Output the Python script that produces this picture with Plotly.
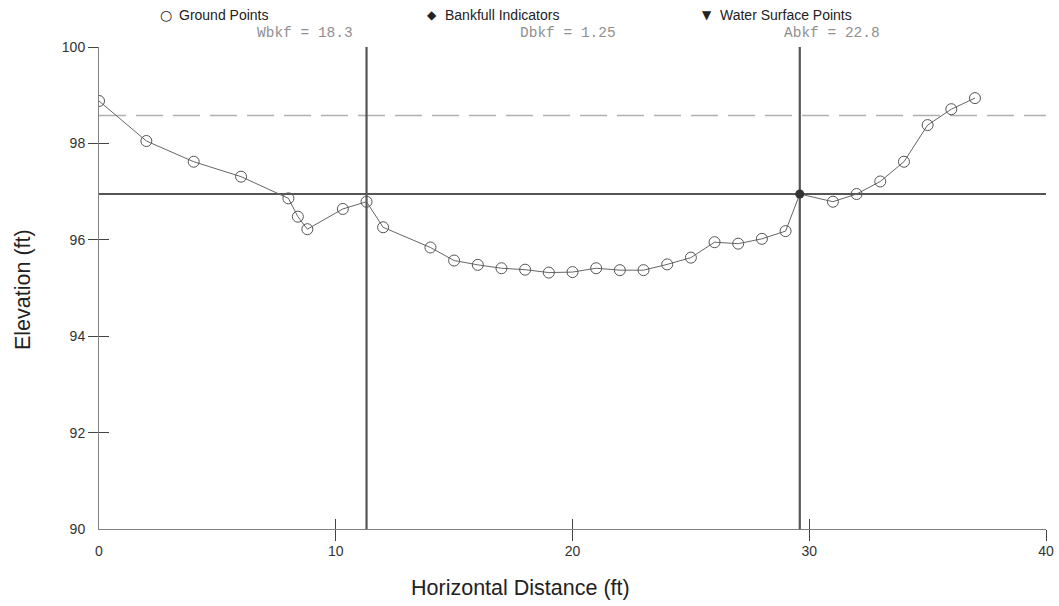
import plotly.graph_objects as go

# Surveyed cross-section: station (ft) and elevation (ft)
ground_x = [0, 2, 4, 6, 8, 8.4, 8.8, 10.3, 11.3, 12, 14, 15, 16, 17, 18, 19, 20, 21, 22,
            23, 24, 25, 26, 27, 28, 29, 31, 32, 33, 34, 35, 36, 37]
ground_y = [98.88, 98.05, 97.62, 97.31, 96.86, 96.48, 96.22, 96.64, 96.79, 96.26, 95.84,
            95.57, 95.48, 95.41, 95.38, 95.32, 95.33, 95.41, 95.37, 95.37, 95.49, 95.63,
            95.95, 95.92, 96.02, 96.18, 96.79, 96.95, 97.21, 97.62, 98.38, 98.71, 98.94]

# Bankfull indicator
bankfull_x = [29.6]
bankfull_y = [96.95]

# Bankfull geometry
left_bank = 11.3
right_bank = 29.6
bankfull_elev = 96.95
floodprone_elev = 98.58
stats = {"Wbkf": "18.3", "Dbkf": "1.25", "Abkf": "22.8"}

x_ticks = [0, 10, 20, 30, 40]
y_ticks = [90, 92, 94, 96, 98, 100]
x_range = [0, 40]
y_range = [90, 100]

profile = sorted(zip(ground_x + bankfull_x, ground_y + bankfull_y))
line_x = [p[0] for p in profile]
line_y = [p[1] for p in profile]

fig = go.Figure()

# Reference lines: flood-prone (dashed), bankfull elevation, bank stations
fig.add_trace(go.Scatter(x=x_range, y=[floodprone_elev] * 2, mode="lines",
                         line=dict(color="#b0b0b0", width=1.6, dash="27px,10px"),
                         hoverinfo="skip"))
fig.add_trace(go.Scatter(x=x_range, y=[bankfull_elev] * 2, mode="lines",
                         line=dict(color="#555555", width=2), hoverinfo="skip"))
for bx in (left_bank, right_bank):
    fig.add_trace(go.Scatter(x=[bx, bx], y=y_range, mode="lines",
                             line=dict(color="#555555", width=2.2), hoverinfo="skip"))

# Ground profile
fig.add_trace(go.Scatter(x=line_x, y=line_y, mode="lines",
                         line=dict(color="#666666", width=1), hoverinfo="skip"))
fig.add_trace(go.Scatter(x=ground_x, y=ground_y, mode="markers", name="Ground Points",
                         marker=dict(symbol="circle-open", size=11, color="#555555",
                                     line=dict(color="#555555", width=1))))
fig.add_trace(go.Scatter(x=bankfull_x, y=bankfull_y, mode="markers", name="Bankfull Indicators",
                         marker=dict(symbol="circle", size=9, color="#333333")))

# Tick marks crossing the axes (drawn by overlay axes)
tick_axis = dict(tickwidth=1, tickcolor="#444444", showticklabels=False, showgrid=False,
                 zeroline=False, showline=False, automargin=False)
fig.update_layout(
    xaxis2=dict(overlaying="x", anchor="y", side="bottom", range=x_range,
                tickvals=x_ticks[1:], ticks="outside", ticklen=11, **tick_axis),
    xaxis3=dict(overlaying="x", anchor="y", side="bottom", range=x_range,
                tickvals=x_ticks[1:], ticks="inside", ticklen=10, **tick_axis),
    yaxis2=dict(overlaying="y", anchor="x", side="left", range=y_range,
                tickvals=y_ticks[1:], ticks="outside", ticklen=10, **tick_axis),
    yaxis3=dict(overlaying="y", anchor="x", side="left", range=y_range,
                tickvals=y_ticks[1:], ticks="inside", ticklen=10, **tick_axis),
)
fig.add_trace(go.Scatter(x=[None], y=[None], xaxis="x2", yaxis="y2", showlegend=False))
fig.add_trace(go.Scatter(x=[None], y=[None], xaxis="x3", yaxis="y3", showlegend=False))

fig.update_layout(
    xaxis=dict(range=x_range, tickvals=x_ticks, ticktext=[str(v) for v in x_ticks],
               ticks="", ticklabelstandoff=9, showgrid=False, zeroline=False,
               showline=True, linecolor="#808080", linewidth=1, automargin=False,
               tickfont=dict(family="Liberation Sans", size=14, color="#333333")),
    yaxis=dict(range=y_range, tickvals=y_ticks, ticktext=[str(v) for v in y_ticks],
               ticks="", ticklabelstandoff=10, showgrid=False, zeroline=False,
               showline=True, linecolor="#808080", linewidth=1, automargin=False,
               tickfont=dict(family="Liberation Sans", size=14, color="#333333")),
    width=1059, height=606,
    margin=dict(l=99, r=13, t=47, b=77),
    paper_bgcolor="white", plot_bgcolor="white",
    showlegend=False,
)

W, H = 947.0, 482.0
L, T = 99.0, 47.0


def px(xp):
    return (xp - L) / W


def py(yp):
    return (T + H - yp) / H


annotations = []
# Legend row: symbol then label
legend_items = [("○", "Ground Points", 166, 177, 14),
                ("◆", "Bankfull Indicators", 432, 443, 12),
                ("▼", "Water Surface Points", 707, 718, 12)]
for sym, label, sym_x, text_x, sym_size in legend_items:
    annotations.append(dict(text=sym, x=px(sym_x), y=py(15), xref="paper", yref="paper",
                            xanchor="center", yanchor="middle", showarrow=False,
                            font=dict(family="DejaVu Sans", size=sym_size, color="#222222")))
    annotations.append(dict(text=label, x=px(text_x), y=py(15), xref="paper",
                            yref="paper", xanchor="left", yanchor="middle", showarrow=False,
                            font=dict(family="Liberation Sans", size=14, color="#222222")))
# Bankfull statistics
for (key, val), xpix in zip(stats.items(), [305, 568, 832]):
    annotations.append(dict(text=f"{key} = {val}", x=px(xpix), y=py(33), xref="paper",
                            yref="paper", xanchor="center", yanchor="middle", showarrow=False,
                            font=dict(family="Liberation Mono", size=14.5, color="#909090")))
# Axis titles
annotations.append(dict(text="Horizontal Distance (ft)", x=px(520), y=py(588), xref="paper",
                        yref="paper", xanchor="center", yanchor="middle", showarrow=False,
                        font=dict(family="Liberation Sans", size=21.5, color="#222222")))
annotations.append(dict(text="Elevation (ft)", x=px(23), y=py(290), xref="paper",
                        yref="paper", xanchor="center", yanchor="middle", showarrow=False,
                        textangle=-90,
                        font=dict(family="Liberation Sans", size=21.5, color="#222222")))
fig.update_layout(annotations=annotations)

fig.write_html("out.html")
